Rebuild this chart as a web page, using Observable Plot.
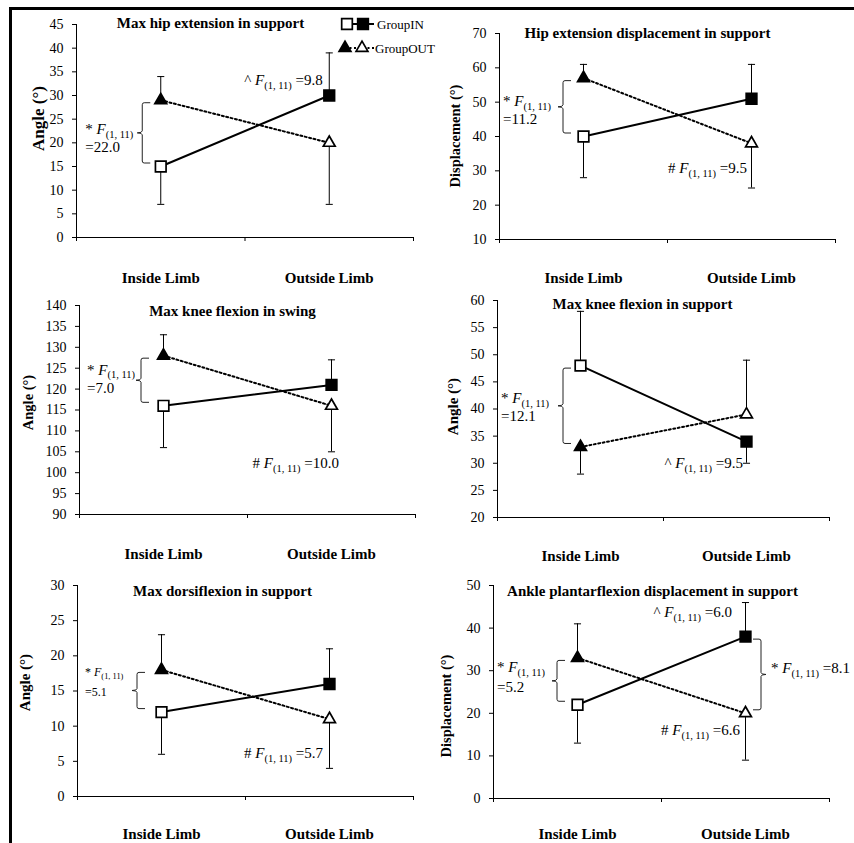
<!DOCTYPE html>
<html><head><meta charset="utf-8">
<script src="https://cdn.jsdelivr.net/npm/d3@7"></script>
<script src="https://cdn.jsdelivr.net/npm/@observablehq/plot@0.6"></script>
<style>
body{margin:0;background:#fff;}
#wrap{position:relative;width:854px;height:843px;overflow:hidden;background:#fff;}
#wrap svg{position:absolute;left:0;top:0;}
#frame{position:absolute;left:9px;top:7px;width:842px;height:836px;border-left:3px solid #000;border-top:3px solid #000;}
</style></head><body><div id="wrap"><div id="frame"></div></div>
<script>
// ---- data ----
const limbs = ["Inside Limb", "Outside Limb"];
const titles = ["Max hip extension in support", "Hip extension displacement in support", "Max knee flexion in swing",
  "Max knee flexion in support", "Max dorsiflexion in support", "Ankle plantarflexion displacement in support"];
const yLabels = ["Angle (°)", "Displacement (°)", "Angle (°)", "Angle (°)", "Angle (°)", "Displacement (°)"];
const yDomains = [[0, 45], [10, 70], [90, 140], [20, 60], [0, 30], [0, 50]];
const yTickSteps = [5, 10, 5, 5, 5, 10];
const groupIN = [[15, 30], [40, 51], [116, 121], [48, 34], [12, 16], [22, 38]];
const groupOUT = [[29, 20], [57, 38], [128, 116], [33, 39], [18, 11], [33, 20]];
const errorIN = [[7, 39], [28, 61], [106, 127], [58, 30], [6, 21], [13, 46]];
const errorOUT = [[34, 7], [61, 25], [133, 105], [28, 49], [23, 4], [41, 9]];
const notes = [
  [{type: "brace", limb: 0, dx: -18},
   {type: "split", sym: "*", F: "22.0", limb: 0, dx: -75, y: 21.66, gap: 18},
   {type: "line", sym: "^", F: "9.8", limb: 1, dx: -6, y: 32.1, anchor: "end"}],
  [{type: "brace", limb: 0, dx: -20},
   {type: "split", sym: "*", F: "11.2", limb: 0, dx: -80, y: 48.74, gap: 18},
   {type: "line", sym: "#", F: "9.5", limb: 1, dx: -4, y: 29.2, anchor: "end"}],
  [{type: "brace", limb: 0, dx: -22},
   {type: "split", sym: "*", F: "7.0", limb: 0, dx: -76, y: 123.3, gap: 18},
   {type: "line", sym: "#", F: "10.0", limb: 1, dx: 8, y: 101.0, anchor: "end"}],
  [{type: "brace", limb: 0, dx: -17},
   {type: "split", sym: "*", F: "12.1", limb: 0, dx: -79, y: 41.01, gap: 18},
   {type: "line", sym: "^", F: "9.5", limb: 1, dx: -3, y: 29.0, anchor: "end"}],
  [{type: "brace", limb: 0, dx: -24},
   {type: "split", sym: "*", F: "5.1", limb: 0, dx: -76, y: 17.1, gap: 20, size: 12},
   {type: "line", sym: "#", F: "5.7", limb: 1, dx: -6, y: 5.4, anchor: "end"}],
  [{type: "brace", limb: 0, dx: -20},
   {type: "split", sym: "*", F: "5.2", limb: 0, dx: -80, y: 29.6, gap: 20},
   {type: "line", sym: "^", F: "6.0", limb: 1, dx: -13, y: 42.5, anchor: "end"},
   {type: "brace", limb: 1, dx: 16, side: -1},
   {type: "line", sym: "*", F: "8.1", limb: 1, dx: 26, y: 29.3, anchor: "start"},
   {type: "line", sym: "#", F: "6.6", limb: 1, dx: -5, y: 14.8, anchor: "end"}]
];

// ---- layout ----
const W = 854, H = 843;
const frames = [
  {L: 76, R: 413, T: 24, B: 237}, {L: 499, R: 835, T: 33, B: 239},
  {L: 79, R: 415, T: 305, B: 514}, {L: 497, R: 829, T: 300, B: 517},
  {L: 77, R: 413, T: 585, B: 796}, {L: 493, R: 829, T: 585, B: 798}];
const titlePos = [[-34.5, -1], [-20, 0], [-15, 5.5], [-21, 3.5], [-23, 5.5], [-9, 5.5]];
const ylabPos = [[-37.5, -12.5, 17], [-44.5, -0.5, 14.5], [-51, -7.5, 14.5], [-44, -2.5, 15], [-52, -8.5, 15], [-47, 14, 14.5]];
const catDy = [40.5, 38.5, 39.5, 38.5, 37.5, 35.5];
const FONT = "'Liberation Serif', 'Times New Roman', serif";

const cap = {draw(ctx, size) { const w = Math.sqrt(size) / 2; ctx.moveTo(-w, 0); ctx.lineTo(w, 0); }};

const wrap = document.getElementById("wrap");

function fText(g, x, y, n, size) {
  const sub = size * 0.24;
  const t = g.append("text").attr("x", x).attr("y", y)
    .attr("text-anchor", n.anchor || "start").attr("font-size", size);
  t.append("tspan").text(n.sym + " ");
  t.append("tspan").attr("font-style", "italic").text("F");
  t.append("tspan").attr("font-size", size * 0.7).attr("dy", sub).text("(1, 11)");
  if (n.type !== "split") t.append("tspan").attr("dy", -sub).text(" =" + n.F);
  else t.append("tspan").attr("x", x).attr("dy", n.gap - sub).text("=" + n.F);
}

for (let i = 0; i < 6; i++) {
  const f = frames[i];
  const pts = [];
  for (let j = 0; j < 2; j++) {
    pts.push({group: "IN", x: j + 0.5, v: groupIN[i][j], e: errorIN[i][j], open: j === 0});
    pts.push({group: "OUT", x: j + 0.5, v: groupOUT[i][j], e: errorOUT[i][j], open: j === 1});
  }
  const IN = pts.filter(d => d.group === "IN"), OUT = pts.filter(d => d.group === "OUT");
  const ticks = d3.range(yDomains[i][0], yDomains[i][1] + 1e-9, yTickSteps[i]);
  const chart = Plot.plot({
    width: W, height: H,
    marginLeft: f.L, marginRight: W - f.R, marginTop: f.T, marginBottom: H - f.B,
    style: {background: "transparent", fontFamily: FONT, fontSize: "14px", color: "#000", overflow: "visible"},
    x: {domain: [0, 2], ticks: [0, 1, 2], tickSize: 4, tickFormat: () => "", line: true, label: null},
    y: {domain: yDomains[i], ticks, tickSize: 4, tickPadding: 9, line: true, label: null},
    marks: [
      Plot.ruleX(pts, {x: "x", y1: "v", y2: "e", stroke: "#000", strokeWidth: 1}),
      Plot.dot(pts, {x: "x", y: "e", symbol: cap, r: 4, fill: "none", stroke: "#000", strokeWidth: 1}),
      Plot.line(OUT, {x: "x", y: "v", stroke: "#000", strokeWidth: 2, strokeDasharray: "2,2.5"}),
      Plot.line(IN, {x: "x", y: "v", stroke: "#000", strokeWidth: 2}),
      Plot.dot(OUT.filter(d => !d.open), {x: "x", y: "v", symbol: "triangle", r: 4.4, fill: "#000", stroke: "#000", strokeWidth: 1.7}),
      Plot.dot(OUT.filter(d => d.open), {x: "x", y: "v", symbol: "triangle", r: 4.4, fill: "#fff", stroke: "#000", strokeWidth: 1.7}),
      Plot.dot(IN.filter(d => !d.open), {x: "x", y: "v", symbol: "square", r: 6, fill: "#000", stroke: "#000", strokeWidth: 1.7}),
      Plot.dot(IN.filter(d => d.open), {x: "x", y: "v", symbol: "square", r: 6, fill: "#fff", stroke: "#000", strokeWidth: 1.7}),
      Plot.text(limbs, {x: (d, j) => j + 0.5, frameAnchor: "bottom", lineAnchor: "middle", textAnchor: "middle", dy: catDy[i], fontWeight: "bold", fontSize: 15, fill: "#000"}),
      Plot.text([titles[i]], {frameAnchor: "top", lineAnchor: "middle", textAnchor: "middle", dx: titlePos[i][0], dy: titlePos[i][1], fontWeight: "bold", fontSize: 15, fill: "#000"}),
      Plot.text([yLabels[i]], {frameAnchor: "left", lineAnchor: "middle", textAnchor: "middle", rotate: -90, dx: ylabPos[i][0], dy: ylabPos[i][1], fontWeight: "bold", fontSize: ylabPos[i][2], fill: "#000"})
    ]
  });
  const sx = chart.scale("x"), sy = chart.scale("y");
  const g = d3.select(chart).append("g").attr("fill", "#000").attr("font-family", FONT);
  for (const n of notes[i]) {
    const x0 = sx.apply(n.limb + 0.5) + n.dx;
    if (n.type === "brace") {
      const s = n.side || 1;
      const a = sy.apply(groupOUT[i][n.limb]), b = sy.apply(groupIN[i][n.limb]);
      const y1 = Math.min(a, b) + 3, y2 = Math.max(a, b) - 3, ym = (y1 + y2) / 2;
      const p = d3.path();
      p.moveTo(x0 + s * 8, y1); p.lineTo(x0 + s * 2, y1); p.quadraticCurveTo(x0, y1, x0, y1 + 2);
      p.lineTo(x0, ym - 2); p.quadraticCurveTo(x0, ym, x0 - s * 5, ym);
      p.quadraticCurveTo(x0, ym, x0, ym + 2); p.lineTo(x0, y2 - 2);
      p.quadraticCurveTo(x0, y2, x0 + s * 2, y2); p.lineTo(x0 + s * 8, y2);
      g.append("path").attr("d", p.toString()).attr("fill", "none").attr("stroke", "#222").attr("stroke-width", 1);
    } else {
      fText(g, x0, sy.apply(n.y), n, n.size || 15);
    }
  }
  wrap.appendChild(chart);
}

// ---- legend ----
const leg = d3.select(wrap).append("svg").attr("width", W).attr("height", H).style("font-family", FONT);
leg.append("line").attr("x1", 347).attr("x2", 374).attr("y1", 24).attr("y2", 24).attr("stroke", "#000").attr("stroke-width", 2);
leg.append("line").attr("x1", 345).attr("x2", 374).attr("y1", 48).attr("y2", 48).attr("stroke", "#000").attr("stroke-width", 2).attr("stroke-dasharray", "2,2.5");
const sq = d3.symbol(d3.symbolSquare, Math.PI * 6 * 6)(), tri = d3.symbol(d3.symbolTriangle, Math.PI * 4.4 * 4.4)();
[[347, 24, sq, "#fff"], [363, 24, sq, "#000"], [345, 48, tri, "#000"], [362, 48, tri, "#fff"]].forEach(([x, y, d, fill]) =>
  leg.append("path").attr("d", d).attr("transform", `translate(${x},${y})`).attr("fill", fill).attr("stroke", "#000").attr("stroke-width", 1.7));
leg.append("text").attr("x", 377).attr("y", 28.5).attr("font-size", 13).text("GroupIN");
leg.append("text").attr("x", 375).attr("y", 52.5).attr("font-size", 13).text("GroupOUT");
</script></body></html>
